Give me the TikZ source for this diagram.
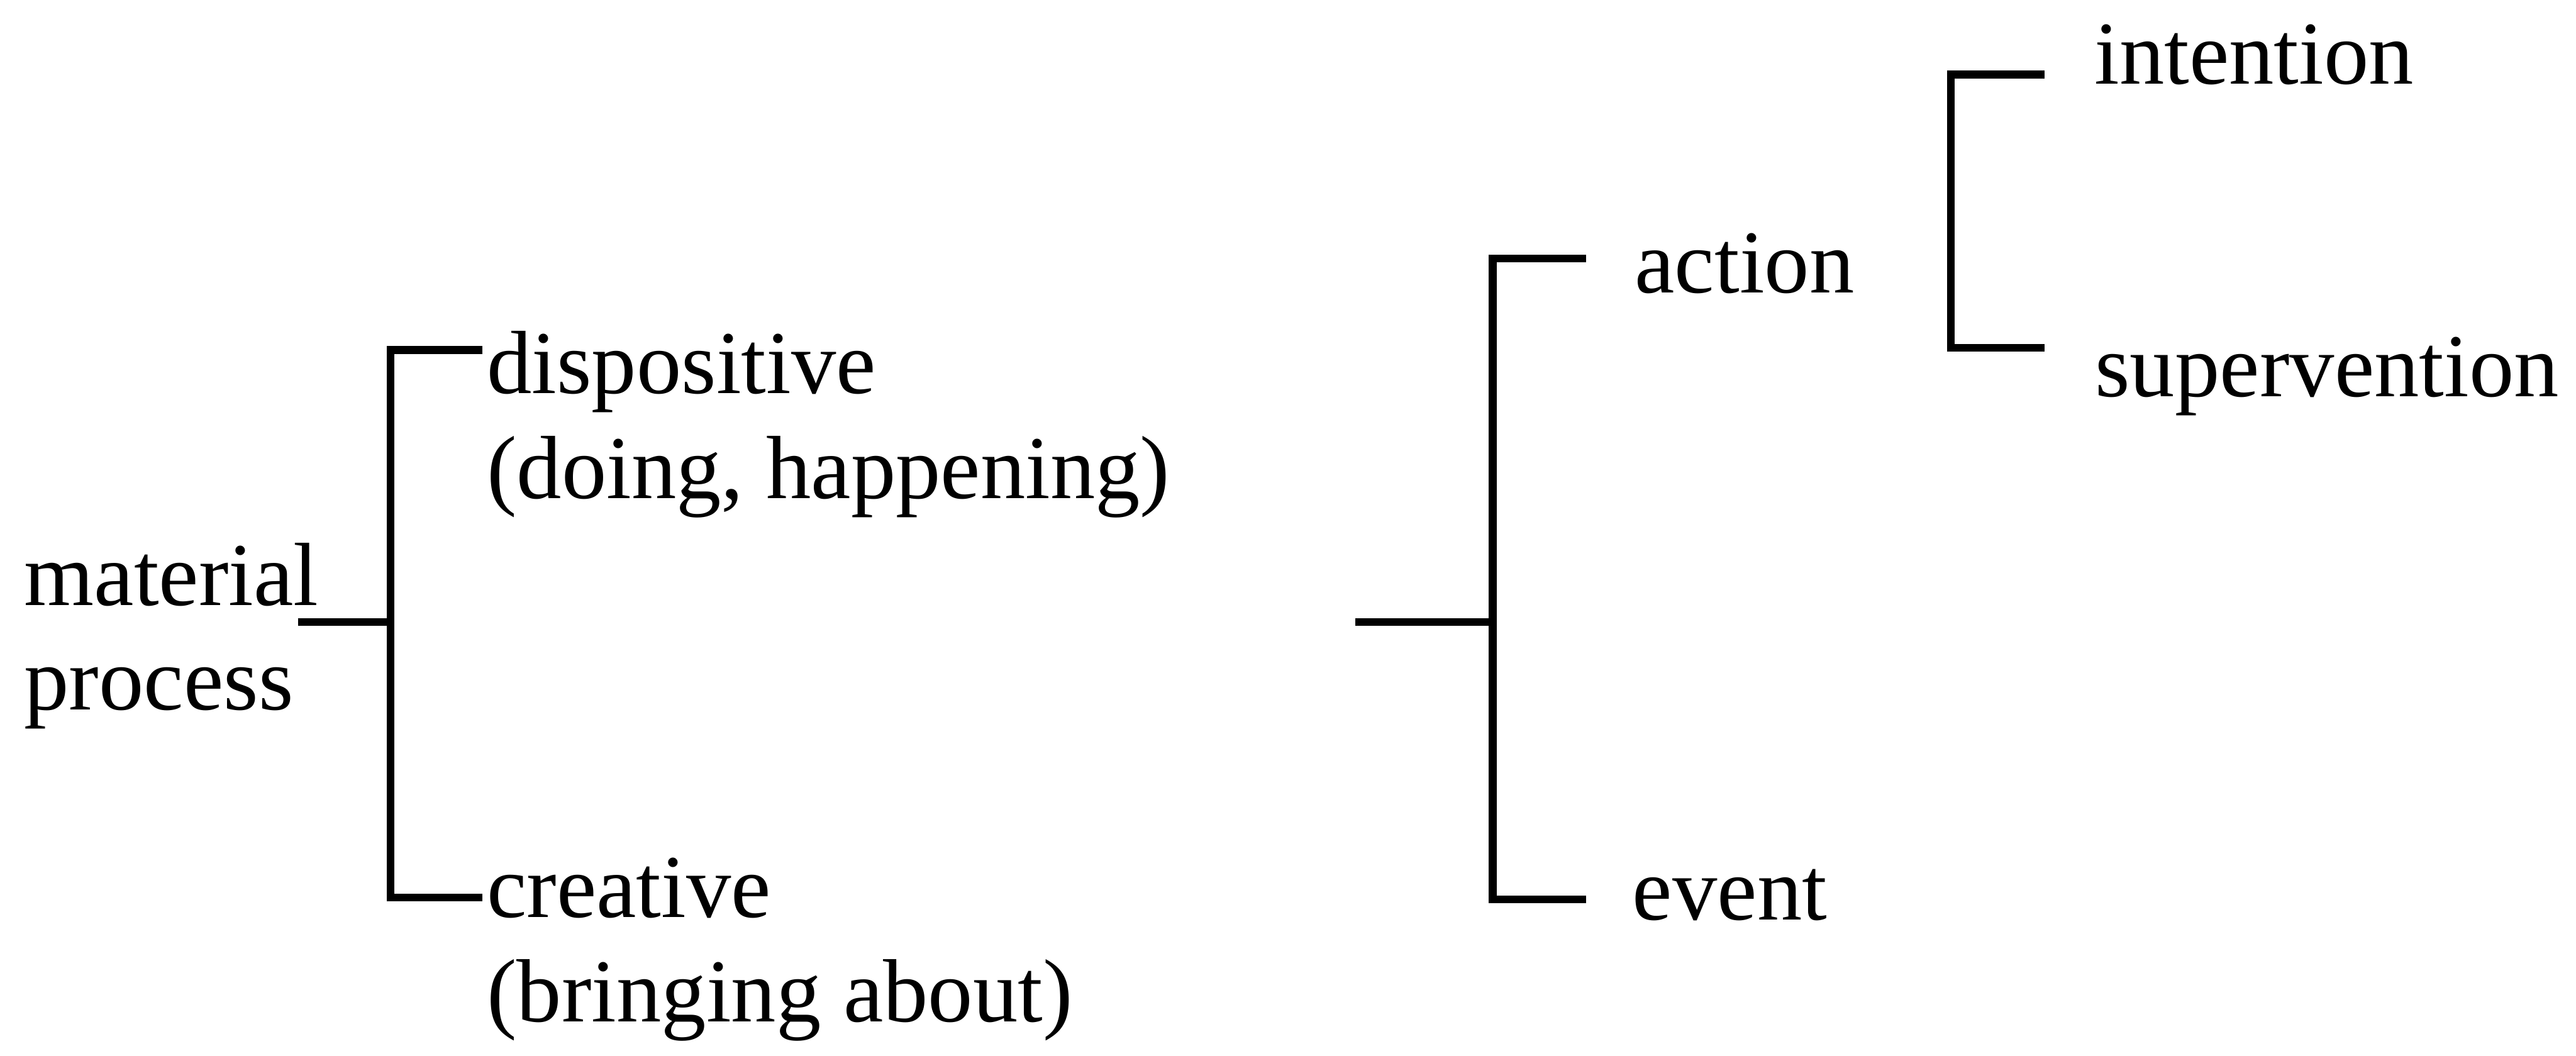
\documentclass[tikz,border=0pt]{standalone}
\usepackage{fontspec}
\setmainfont{Liberation Serif}
\usetikzlibrary{calc}
\tikzset{
	term/.style={inner sep=0pt,anchor=base west,align=left,font=\fontsize{12}{14}\selectfont},
	bar/.style={line width=1.05pt}
}

\begin{document}
\begin{tikzpicture}
	\useasboundingbox (0,0) rectangle (12.101,4.960);
	\node[term] (material) at (0.107,1.625) {material\\process};
	\node[term] (dispositive) at (2.280,2.619) {dispositive\\(doing, happening)};
	\node[term] (creative) at (2.280,0.160) {creative\\(bringing about)};
	\node[term] (action) at (7.673,3.586) {action};
	\node[term] (event) at (7.662,0.639) {event};
	\node[term] (intention) at (9.832,4.566) {intention};
	\node[term] (supervention) at (9.835,3.098) {supervention};
	\coordinate (matend) at (1.399,2.038);
	\coordinate (matfork) at (1.834,2.038);
	\coordinate (dispend) at ($(dispositive.base west) + (-0.013,0.697)$);
	\coordinate (creaend) at ($(creative.base west) + (-0.013,0.584)$);
	\draw[bar] (matend) -- (matfork);
	\draw[bar] (dispend) -| (matfork) |- (creaend);
	\coordinate (rootend) at (6.367,2.038);
	\coordinate (rootfork) at (7.012,2.038);
	\coordinate (actend) at ($(action.base west) + (-0.223,0.160)$);
	\coordinate (evend) at ($(event.base west) + (-0.212,0.096)$);
	\draw[bar] (rootend) -- (rootfork);
	\draw[bar] (actend) -| (rootfork) |- (evend);
	\coordinate (intend) at ($(intention.base west) + (-0.229,0.044)$);
	\coordinate (supend) at ($(supervention.base west) + (-0.232,0.229)$);
	\coordinate (intbar) at (9.165,3.97);
	\draw[bar] (intend) -| (intbar) |- (supend);
\end{tikzpicture}
\end{document}
